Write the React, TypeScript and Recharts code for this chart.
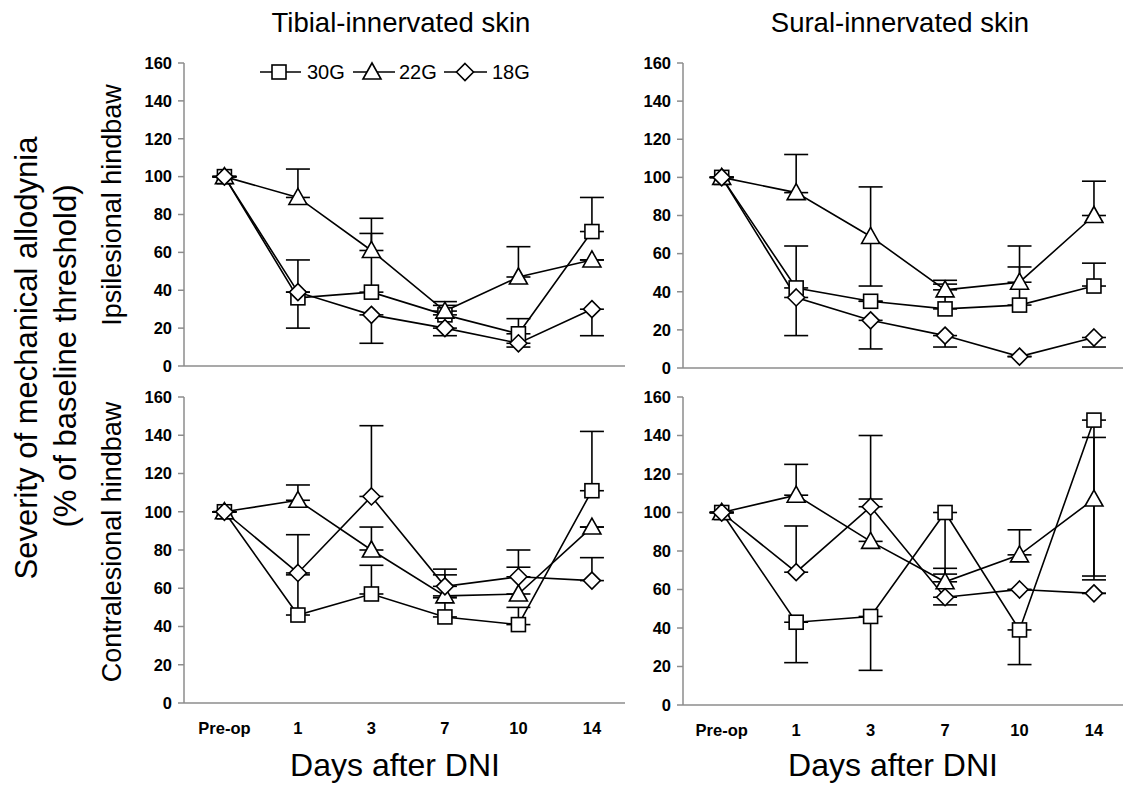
import React from 'react';
import { LineChart, Line, XAxis, YAxis, ErrorBar } from 'recharts';

const categories = ['Pre-op', '1', '3', '7', '10', '14'];
const yTicks = [0, 20, 40, 60, 80, 100, 120, 140, 160];

// Tibial-innervated, ipsilesional
const tibIpsi30 = [100, 36, 39, 27, 17, 71];
const tibIpsi22 = [100, 89, 61, 29, 47, 56];
const tibIpsi18 = [100, 39, 27, 20, 12, 30];
const tibIpsiErr30 = [[0, 0], [16, 20], [0, 31], [0, 5], [0, 8], [0, 18]];
const tibIpsiErr22 = [[0, 0], [0, 15], [0, 17], [0, 5], [0, 16], [0, 0]];
const tibIpsiErr18 = [[0, 0], [0, 0], [15, 0], [4, 0], [2, 0], [14, 0]];

// Sural-innervated, ipsilesional
const surIpsi30 = [100, 42, 35, 31, 33, 43];
const surIpsi22 = [100, 92, 69, 41, 45, 80];
const surIpsi18 = [100, 37, 25, 17, 6, 16];
const surIpsiErr30 = [[0, 0], [0, 22], [0, 0], [0, 13], [0, 20], [0, 12]];
const surIpsiErr22 = [[0, 0], [0, 20], [26, 26], [0, 5], [0, 19], [0, 18]];
const surIpsiErr18 = [[0, 0], [20, 0], [15, 0], [6, 0], [0, 0], [5, 0]];

// Tibial-innervated, contralesional
const tibContra30 = [100, 46, 57, 45, 41, 111];
const tibContra22 = [100, 106, 80, 56, 57, 92];
const tibContra18 = [100, 68, 108, 61, 66, 64];
const tibContraErr30 = [[0, 0], [0, 21], [0, 15], [0, 10], [0, 9], [0, 31]];
const tibContraErr22 = [[0, 0], [0, 8], [0, 12], [0, 11], [0, 14], [0, 0]];
const tibContraErr18 = [[0, 0], [0, 20], [0, 37], [0, 9], [0, 14], [0, 12]];

// Sural-innervated, contralesional
const surContra30 = [100, 43, 46, 100, 39, 148];
const surContra22 = [100, 109, 85, 64, 78, 107];
const surContra18 = [100, 69, 103, 56, 60, 58];
const surContraErr30 = [[0, 0], [21, 0], [28, 0], [32, 0], [18, 0], [81, 0]];
const surContraErr22 = [[0, 0], [0, 16], [0, 22], [0, 7], [0, 13], [42, 32]];
const surContraErr18 = [[0, 0], [0, 24], [0, 37], [4, 0], [0, 0], [0, 0]];

function build(v30: number[], v22: number[], v18: number[], e30: number[][], e22: number[][], e18: number[][]) {
  return categories.map((c, i) => ({
    x: i,
    cat: c,
    s30: v30[i],
    s22: v22[i],
    s18: v18[i],
    e30: e30[i],
    e22: e22[i],
    e18: e18[i],
  }));
}

const FONT = '"Liberation Sans", Arial, sans-serif';
const AXIS = '#8c8c8c';

const SquareDot = (p: any) => {
  if (p.cx == null || p.cy == null) return <g key={`sq-${p.index}`} />;
  return <rect key={`sq-${p.index}`} x={p.cx - 7} y={p.cy - 7} width={14} height={14} fill="#fff" stroke="#000" strokeWidth={1.6} />;
};
const TriDot = (p: any) => {
  if (p.cx == null || p.cy == null) return <g key={`tr-${p.index}`} />;
  const { cx, cy } = p;
  return <polygon key={`tr-${p.index}`} points={`${cx},${cy - 9} ${cx + 9},${cy + 7} ${cx - 9},${cy + 7}`} fill="#fff" stroke="#000" strokeWidth={1.6} />;
};
const DiaDot = (p: any) => {
  if (p.cx == null || p.cy == null) return <g key={`di-${p.index}`} />;
  const { cx, cy } = p;
  return <polygon key={`di-${p.index}`} points={`${cx},${cy - 8.5} ${cx + 8.5},${cy} ${cx},${cy + 8.5} ${cx - 8.5},${cy}`} fill="#fff" stroke="#000" strokeWidth={1.6} />;
};

type PanelProps = {
  left: number; top: number; width: number; height: number;
  domain: [number, number]; data: any[]; showX: boolean;
};

function Panel({ left, top, width, height, domain, data, showX }: PanelProps) {
  const YW = 70, MT = 12, MR = 2, XH = showX ? 44 : 12;
  return (
    <div style={{ position: 'absolute', left: left - YW, top: top - MT }}>
      <LineChart width={YW + width + MR} height={MT + height + XH} data={data} margin={{ top: MT, right: MR, left: 0, bottom: 0 }}>
        <XAxis
          type="number"
          dataKey="x"
          domain={domain}
          ticks={[0, 1, 2, 3, 4, 5]}
          allowDataOverflow
          tickFormatter={(i: number) => categories[i]}
          tickLine={false}
          tickSize={0}
          tickMargin={19}
          height={XH}
          stroke={AXIS}
          strokeWidth={1.5}
          tick={showX ? { fill: '#000', fontWeight: 'bold', fontSize: 16.5, fontFamily: FONT } : false}
        />
        <YAxis
          type="number"
          domain={[0, 160]}
          ticks={yTicks}
          width={YW}
          tickSize={6}
          tickMargin={6}
          stroke={AXIS}
          strokeWidth={1.5}
          interval={0}
          tick={{ fill: '#000', fontWeight: 'bold', fontSize: 16.5, fontFamily: FONT }}
        />
        <Line dataKey="s30" stroke="#000" strokeWidth={1.6} isAnimationActive={false} dot={SquareDot} activeDot={false}>
          <ErrorBar dataKey="e30" direction="y" width={12} stroke="#000" strokeWidth={1.6} />
        </Line>
        <Line dataKey="s22" stroke="#000" strokeWidth={1.6} isAnimationActive={false} dot={TriDot} activeDot={false}>
          <ErrorBar dataKey="e22" direction="y" width={12} stroke="#000" strokeWidth={1.6} />
        </Line>
        <Line dataKey="s18" stroke="#000" strokeWidth={1.6} isAnimationActive={false} dot={DiaDot} activeDot={false}>
          <ErrorBar dataKey="e18" direction="y" width={12} stroke="#000" strokeWidth={1.6} />
        </Line>
      </LineChart>
    </div>
  );
}

function LegendBox() {
  const y = 14;
  return (
    <svg width={300} height={28} style={{ position: 'absolute', left: 250, top: 58 }}>
      <line x1={10} y1={y} x2={51} y2={y} stroke="#000" strokeWidth={1.6} />
      <rect x={22} y={y - 7} width={14} height={14} fill="#fff" stroke="#000" strokeWidth={1.6} />
      <text x={57} y={y + 7} fontFamily={FONT} fontSize={20}>30G</text>
      <line x1={103} y1={y} x2={145} y2={y} stroke="#000" strokeWidth={1.6} />
      <polygon points={`122,${y - 9} 131,${y + 7} 113,${y + 7}`} fill="#fff" stroke="#000" strokeWidth={1.6} />
      <text x={149} y={y + 7} fontFamily={FONT} fontSize={20}>22G</text>
      <line x1={194} y1={y} x2={237} y2={y} stroke="#000" strokeWidth={1.6} />
      <polygon points={`215,${y - 8.5} 223.5,${y} 215,${y + 8.5} 206.5,${y}`} fill="#fff" stroke="#000" strokeWidth={1.6} />
      <text x={242} y={y + 7} fontFamily={FONT} fontSize={20}>18G</text>
    </svg>
  );
}

export default function App() {
  const tlData = build(tibIpsi30, tibIpsi22, tibIpsi18, tibIpsiErr30, tibIpsiErr22, tibIpsiErr18);
  const trData = build(surIpsi30, surIpsi22, surIpsi18, surIpsiErr30, surIpsiErr22, surIpsiErr18);
  const blData = build(tibContra30, tibContra22, tibContra18, tibContraErr30, tibContraErr22, tibContraErr18);
  const brData = build(surContra30, surContra22, surContra18, surContraErr30, surContraErr22, surContraErr18);

  return (
    <div style={{ position: 'absolute', left: 0, top: 0, width: 1123, height: 785, background: '#fff', overflow: 'hidden', fontFamily: FONT }}>
      <svg width={1123} height={785} style={{ position: 'absolute', left: 0, top: 0 }}>
        <text x={401} y={32} textAnchor="middle" fontFamily={FONT} fontSize={27.5}>Tibial-innervated skin</text>
        <text x={900} y={32} textAnchor="middle" fontFamily={FONT} fontSize={27.5}>Sural-innervated skin</text>
        <text transform="translate(37,358) rotate(-90)" textAnchor="middle" fontFamily={FONT} fontSize={31}>Severity of mechanical allodynia</text>
        <text transform="translate(76,356) rotate(-90)" textAnchor="middle" fontFamily={FONT} fontSize={31}>(% of baseline threshold)</text>
        <text transform="translate(121,205) rotate(-90)" textAnchor="middle" fontFamily={FONT} fontSize={27}>Ipsilesional hindbaw</text>
        <text transform="translate(121,542) rotate(-90)" textAnchor="middle" fontFamily={FONT} fontSize={27}>Contralesional hindbaw</text>
        <text x={395} y={776} textAnchor="middle" fontFamily={FONT} fontSize={32}>Days after DNI</text>
        <text x={893} y={776} textAnchor="middle" fontFamily={FONT} fontSize={32}>Days after DNI</text>
      </svg>
      <Panel left={184} top={63} width={441} height={303} domain={[-0.55, 5.45]} data={tlData} showX={false} />
      <Panel left={683} top={63} width={440} height={305} domain={[-0.52, 5.39]} data={trData} showX={false} />
      <Panel left={184} top={397} width={441} height={306} domain={[-0.55, 5.45]} data={blData} showX={true} />
      <Panel left={683} top={397} width={440} height={308} domain={[-0.52, 5.39]} data={brData} showX={true} />
      <LegendBox />
    </div>
  );
}
